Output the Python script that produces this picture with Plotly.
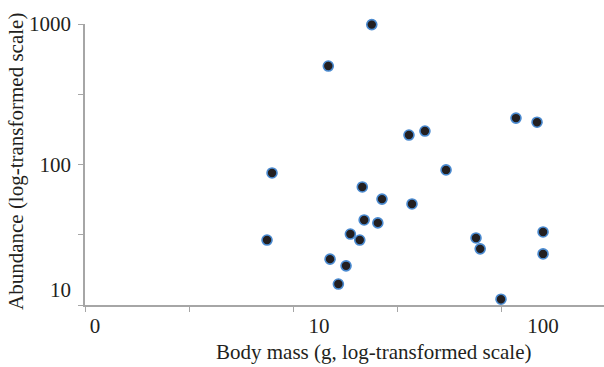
import plotly.graph_objects as go

# Data
body_mass = [17.2, 11.0, 25.2, 29.7, 75.7, 94.0, 36.9, 50.2, 52.4, 100.0, 100.0, 64.9,
             6.17, 5.86, 15.6, 19.1, 26.0, 15.9, 18.3, 13.8, 15.2, 11.2, 13.2, 12.2]
abundance = [990, 502, 162, 173, 214, 200, 91.5, 30.0, 25.1, 33.1, 23.1, 11.0,
             87.1, 29.0, 69.2, 56.7, 52.4, 40.3, 38.4, 32.0, 29.0, 21.2, 19.0, 14.1]

x_tick_vals = [1, 10, 100]
x_tick_text = ["0", "10", "100"]
y_tick_text = ["", "", "100", "", "1000"]

FONT = "Liberation Serif"
FS = 21
AXIS_COLOR = "#a6a6a6"
TEXT_COLOR = "#231f20"

x_range = [-0.0446, 2.272]
y_range = [1, 3]
# decorative tick marks along x axis (evenly spaced)
step = 0.4643
x_marks = [10 ** (x_range[0] + k * step) for k in range(5)]
y_marks = [10 ** (1 + 0.5 * k) for k in range(5)]

W, H = 604, 367
L, T, B = 85, 24, 62
PW, PH = W - L, H - T - B

fig = go.Figure()
fig.add_trace(go.Scatter(
    x=body_mass, y=abundance, mode="markers", cliponaxis=False,
    marker=dict(size=10, color="#231f20", line=dict(color="#4a8ad0", width=1.6)),
    showlegend=False, hoverinfo="skip"))
# invisible trace to anchor tick-mark axis
fig.add_trace(go.Scatter(x=[1], y=[10], xaxis="x2", mode="markers",
                         marker=dict(opacity=0), showlegend=False, hoverinfo="skip"))

fig.update_layout(
    width=W, height=H,
    margin=dict(l=L, r=0, t=T, b=B, autoexpand=False),
    paper_bgcolor="white", plot_bgcolor="white",
    font=dict(family=FONT, size=FS, color=TEXT_COLOR),
    xaxis=dict(type="log", range=x_range, tickvals=x_tick_vals, ticktext=x_tick_text,
               ticks="", showgrid=False, zeroline=False, showline=True, automargin=False,
               linecolor=AXIS_COLOR, linewidth=1.5, tickfont=dict(size=FS),
               ticklabelstandoff=1),
    xaxis2=dict(type="log", range=x_range, overlaying="x", side="bottom", automargin=False,
                tickvals=x_marks, showticklabels=False, ticks="outside", ticklen=6,
                tickcolor=AXIS_COLOR, tickwidth=1.2, showgrid=False, zeroline=False,
                showline=False),
    yaxis=dict(type="log", range=y_range, tickvals=y_marks, ticktext=y_tick_text,
               ticks="outside", ticklen=5, tickcolor=AXIS_COLOR, tickwidth=1.2,
               showgrid=False, zeroline=False, showline=True, automargin=False,
               linecolor=AXIS_COLOR, linewidth=1.5, tickfont=dict(size=FS),
               ticklabelstandoff=3),
    annotations=[
        dict(text="10", xref="paper", yref="y", x=0, y=1, xanchor="right",
             yanchor="middle", xshift=-12, yshift=15, showarrow=False,
             font=dict(size=FS)),
        dict(text="Body mass (g, log-transformed scale)", xref="paper", yref="paper",
             x=(374 - 85) / PW, y=0, yanchor="middle", xanchor="center",
             yshift=-47, showarrow=False, font=dict(size=FS)),
        dict(text="Abundance (log-transformed scale)", xref="paper", yref="paper",
             x=0, y=(305 - 162) / PH, xanchor="center", yanchor="middle",
             xshift=-69, textangle=-90, showarrow=False, borderpad=0,
             font=dict(size=FS)),
    ],
)

fig.write_html("out.html", config={"displayModeBar": False},
               post_script="document.body.style.margin='0';document.body.style.padding='0';")
